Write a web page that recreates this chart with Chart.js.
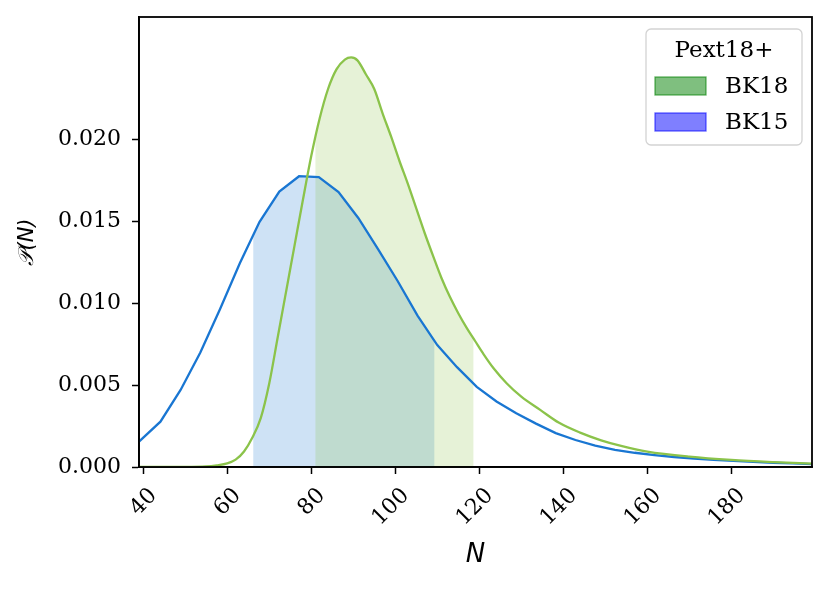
<!DOCTYPE html>
<html>
<head>
<meta charset="utf-8">
<script src="https://cdn.jsdelivr.net/npm/chart.js@4"></script>
<style>
  html, body { margin: 0; padding: 0; background: #fff; }
</style>
</head>
<body>
<canvas id="c" width="832" height="590"></canvas>
<script>
// BK18 posterior
const bk18N = [39, 50, 55, 57.5, 60, 62, 64, 66, 68, 70, 72, 74, 76, 78, 80, 82, 84, 86, 88, 89.5, 91, 93, 95, 97, 99,
  101, 103, 105, 107, 109, 111, 113, 115, 117, 119, 121, 123.5, 126.5, 130, 134.5, 139, 144, 149, 154, 160, 170, 180, 190, 199.3];
const bk18P = [0, 0, 0.00003, 0.0001, 0.00022, 0.00045, 0.00095, 0.0018, 0.003, 0.0051, 0.0079, 0.0107, 0.0135, 0.0163, 0.019,
  0.0213, 0.0231, 0.0243, 0.0249, 0.02503, 0.02485, 0.024, 0.0231, 0.0216, 0.0202, 0.0187, 0.0173, 0.0158, 0.0143, 0.0129,
  0.01155, 0.0104, 0.0094, 0.0085, 0.0077, 0.0069, 0.0060, 0.00512, 0.0043, 0.00349, 0.0027, 0.0021, 0.00163, 0.00127,
  0.00094, 0.00063, 0.00043, 0.0003, 0.00021];

// BK15 posterior
const bk15N = [39, 44.1, 48.9, 53.6, 58.3, 63.0, 67.7, 72.4, 77.1, 81.8, 86.5, 91.2, 95.9, 100.6, 105.3, 110.0, 114.7,
  119.4, 124.1, 128.8, 133.5, 138.2, 142.9, 147.6, 152.3, 157.0, 161.7, 166.4, 171.1, 175.8, 180.5, 185.2, 189.9, 194.6, 199.3];
const bk15P = [0.00155, 0.00277, 0.00471, 0.007, 0.00966, 0.01245, 0.01498, 0.01683, 0.01777, 0.01772, 0.0168, 0.01522,
  0.01332, 0.01135, 0.00925, 0.00745, 0.0061, 0.0049, 0.004, 0.00328, 0.00265, 0.00207, 0.00165, 0.0013, 0.00105, 0.00087,
  0.00073, 0.00061, 0.00052, 0.00044, 0.00037, 0.00031, 0.00026, 0.00022, 0.00018];

// shaded intervals
const bk18Band = [81.0, 118.6];
const bk15Band = [66.2, 109.3];

const xTicks = [40, 60, 80, 100, 120, 140, 160, 180];
const yTicks = [0, 0.005, 0.010, 0.015, 0.020];
const legendTitle = 'Pext18+';

const pts = (xs, ys) => xs.map((x, i) => ({x: x, y: ys[i]}));

const GREEN = '#8bc34a', BLUE = '#1976d2';
const serif = "'DejaVu Serif', serif";

// clip the band datasets to their x interval (must run before the filler)
const bandClip = {
  id: 'bandClip',
  beforeDatasetDraw(chart, args) {
    const ds = chart.data.datasets[args.index];
    if (!ds.band) return;
    const xs = chart.scales.x, a = chart.chartArea;
    const x1 = xs.getPixelForValue(ds.band[0]), x2 = xs.getPixelForValue(ds.band[1]);
    chart.ctx.save();
    chart.ctx.beginPath();
    chart.ctx.rect(x1, a.top, x2 - x1, a.bottom - a.top);
    chart.ctx.clip();
  },
  afterDatasetDraw(chart, args) {
    if (chart.data.datasets[args.index].band) chart.ctx.restore();
  }
};
const filler = Chart.Filler || Chart.registry.getPlugin('filler');
Chart.unregister(filler);
Chart.register(bandClip, filler);

const frameAndLegend = {
  id: 'frameAndLegend',
  afterDraw(chart) {
    const ctx = chart.ctx, a = chart.chartArea;
    ctx.save();
    ctx.strokeStyle = '#000';
    ctx.lineWidth = 1.8;
    ctx.strokeRect(a.left, a.top, a.right - a.left, a.bottom - a.top);

    // legend box
    const w = 156, h = 116;
    const lx = a.right - 10 - w, ly = a.top + 12;
    ctx.beginPath();
    ctx.roundRect(lx, ly, w, h, 5);
    ctx.fillStyle = 'rgba(255,255,255,0.8)';
    ctx.fill();
    ctx.strokeStyle = '#d3d3d3';
    ctx.lineWidth = 1.3;
    ctx.stroke();

    ctx.fillStyle = '#000';
    ctx.font = '23px ' + serif;
    ctx.textAlign = 'center';
    ctx.textBaseline = 'middle';
    ctx.fillText(legendTitle, lx + w / 2, ly + 22);

    const items = chart.data.datasets.filter(d => d.legendFill);
    items.forEach((d, i) => {
      const cy = ly + 57 + i * 36;
      ctx.fillStyle = d.legendFill;
      ctx.fillRect(lx + 9, cy - 9, 51, 18);
      ctx.strokeStyle = d.legendEdge;
      ctx.lineWidth = 1.3;
      ctx.strokeRect(lx + 9, cy - 9, 51, 18);
      ctx.fillStyle = '#000';
      ctx.textAlign = 'left';
      ctx.fillText(d.label, lx + 79, cy + 1);
    });
    ctx.restore();
  }
};

new Chart(document.getElementById('c'), {
  type: 'line',
  data: {
    datasets: [
      { label: 'BK18', data: pts(bk18N, bk18P), borderColor: GREEN, borderWidth: 2.3, pointRadius: 0,
        cubicInterpolationMode: 'monotone', fill: false, order: 0,
        legendFill: 'rgba(0,128,0,0.5)', legendEdge: 'rgba(0,128,0,0.6)' },
      { label: 'BK15', data: pts(bk15N, bk15P), borderColor: BLUE, borderWidth: 2.3, pointRadius: 0,
        tension: 0, fill: false, order: 1, legendFill: 'rgba(0,0,255,0.5)', legendEdge: 'rgba(0,0,255,0.6)' },
      { label: 'BK18 band', data: pts(bk18N, bk18P), borderWidth: 0, borderColor: 'rgba(0,0,0,0)', pointRadius: 0,
        cubicInterpolationMode: 'monotone', fill: 'origin', backgroundColor: 'rgba(139,195,74,0.22)', order: 2, band: bk18Band },
      { label: 'BK15 band', data: pts(bk15N, bk15P), borderWidth: 0, borderColor: 'rgba(0,0,0,0)', pointRadius: 0,
        tension: 0, fill: 'origin', backgroundColor: 'rgba(25,118,210,0.21)', order: 3, band: bk15Band }
    ]
  },
  options: {
    responsive: false,
    animation: false,
    devicePixelRatio: 1,
    layout: { padding: { top: 17, right: 20, left: 0, bottom: 0 } },
    plugins: { legend: { display: false }, tooltip: { enabled: false } },
    scales: {
      x: {
        type: 'linear', min: 39, max: 199.2,
        afterBuildTicks: s => { s.ticks = xTicks.map(v => ({value: v})); },
        afterFit: s => { s.height = 123; s.paddingLeft = 0; s.paddingRight = 0; },
        ticks: { font: { family: serif, size: 22 }, color: '#000', minRotation: 45, maxRotation: 45,
                 padding: 9, labelOffset: 10.5, autoSkip: false, callback: v => String(v) },
        grid: { display: true, drawOnChartArea: false, drawTicks: true, tickLength: 7, tickColor: '#000', tickWidth: 1.5 },
        border: { display: true, color: '#000', width: 1.8 },
        title: { display: true, text: 'N', color: '#000', padding: { top: 0, bottom: 19 },
                 font: { family: "'DejaVu Sans', sans-serif", size: 26, style: 'italic' } }
      },
      y: {
        min: 0, max: 0.0275,
        afterBuildTicks: s => { s.ticks = yTicks.map(v => ({value: v})); },
        afterFit: s => { s.width = 139; s.paddingTop = 0; s.paddingBottom = 0; },
        ticks: { font: { family: serif, size: 22 }, color: '#000', padding: 11, callback: v => v.toFixed(3) },
        grid: { display: true, drawOnChartArea: false, drawTicks: true, tickLength: 7, tickColor: '#000', tickWidth: 1.5 },
        border: { display: true, color: '#000', width: 1.8 },
        title: { display: true, text: '𝒫(N)', color: '#000', padding: { top: 15, bottom: 0 },
                 font: { family: "'DejaVu Sans', sans-serif", size: 21, style: 'italic' } }
      }
    }
  },
  plugins: [frameAndLegend]
});
</script>
</body>
</html>
